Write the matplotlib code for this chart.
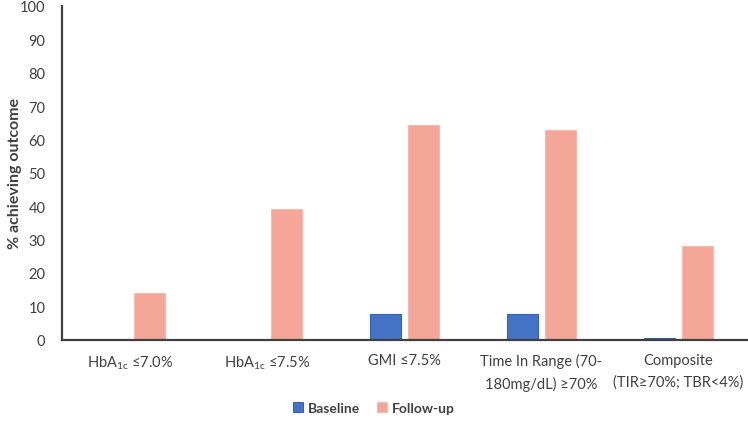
import matplotlib
matplotlib.use("Agg")
import matplotlib.pyplot as plt
import numpy as np

categories = ["HbA$_{1c}$ ≤7.0%", "HbA$_{1c}$ ≤7.5%", "GMI ≤7.5%",
              "Time In Range (70-\n180mg/dL) ≥70%", "Composite\n(TIR≥70%; TBR<4%)"]
baseline = [0.0, 0.0, 7.6, 7.6, 0.4]
followup = [13.9, 39.1, 64.3, 62.7, 27.9]
series_names = ["Baseline", "Follow-up"]
yticks = list(range(0, 101, 10))

plt.rcParams['font.family'] = ['Lato', 'DejaVu Sans']
plt.rcParams['mathtext.fontset'] = 'custom'
plt.rcParams['mathtext.rm'] = 'Lato'
plt.rcParams['mathtext.it'] = 'Lato'
plt.rcParams['mathtext.default'] = 'regular'

fig = plt.figure(figsize=(7.48, 4.27), dpi=100)
ax = fig.add_axes([62/748, (427-340.5)/427, 685/748, 333.5/427])

x = np.arange(len(categories))
w = 0.223
off = 0.1405
blue = '#4472C4'
pink = '#F4A798'
ax.bar(x - off, baseline, w, color=blue, edgecolor='#3563B5', linewidth=0.8, label=series_names[0])
ax.bar(x + off, followup, w, color=pink, edgecolor='#F7B9AC', linewidth=0.8, label=series_names[1])

ax.set_xlim(-0.5, len(categories) - 0.5)
ax.set_ylim(0, 100)
ax.set_yticks(yticks)
ax.set_xticks(x)
ax.set_xticklabels(categories, fontsize=10.5, color='#404040', linespacing=1.65)
ax.tick_params(axis='x', length=0, pad=10)
ax.tick_params(axis='y', length=0, pad=12, labelsize=10.5, labelcolor='#404040')
for s in ['top', 'right']:
    ax.spines[s].set_visible(False)
for s in ['left', 'bottom']:
    ax.spines[s].set_color('#404040')
    ax.spines[s].set_linewidth(1.6)

ax.set_ylabel("% achieving outcome", fontsize=11.5, fontweight='bold', color='#404040')
ax.yaxis.set_label_coords(-0.058, 0.5)

leg = fig.legend(loc='center', bbox_to_anchor=(0.5, (427-409)/427), ncol=2, frameon=False,
                 handlelength=0.7, handleheight=0.7, handletextpad=0.4, columnspacing=1.2,
                 prop={'weight': 'bold', 'size': 10})
for t in leg.get_texts():
    t.set_color('#404040')

fig.savefig('out.png', dpi=100)
